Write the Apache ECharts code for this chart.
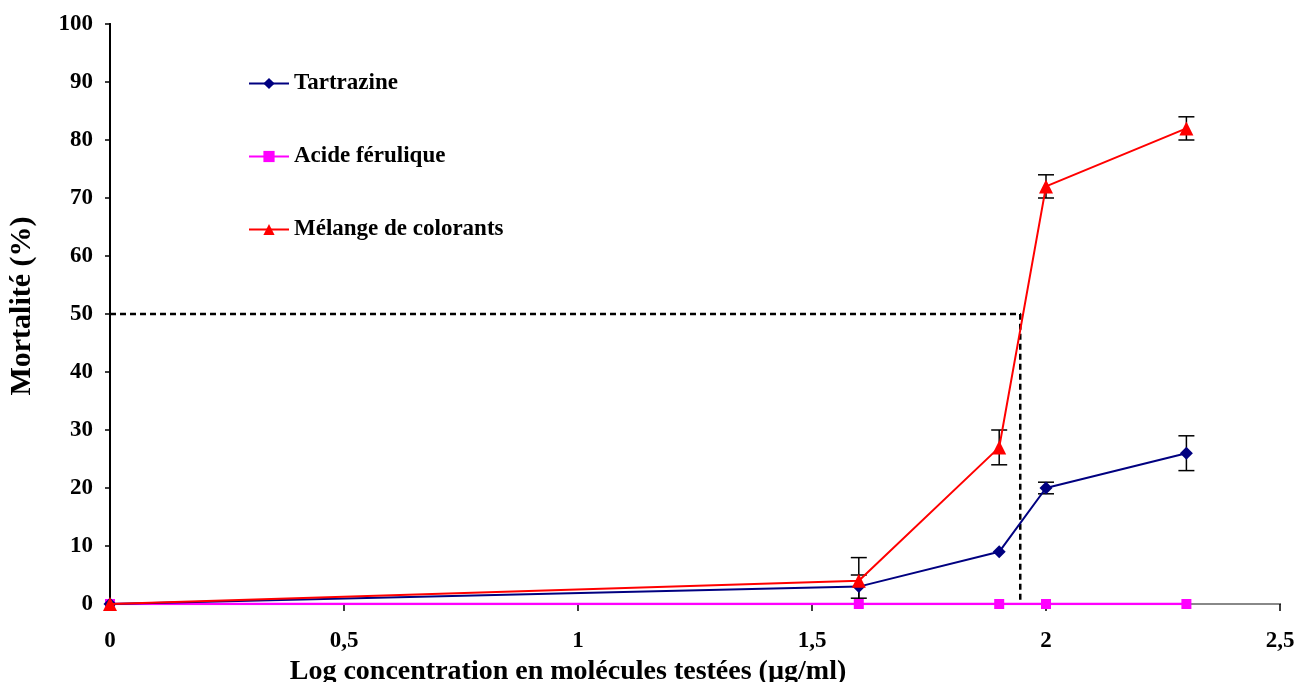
<!DOCTYPE html>
<html>
<head>
<meta charset="utf-8">
<script src="https://cdn.jsdelivr.net/npm/echarts@6/dist/echarts.min.js"></script>
<style>
  html, body { margin: 0; padding: 0; background: #fff; }
  #chart { width: 1297px; height: 682px; }
</style>
</head>
<body>
<div id="chart"></div>
<script>
// Log concentration of the tested molecules (µg/ml)
const logConc = [0, 1.6, 1.9, 2, 2.3];

// Mortality (%) per series
const tartrazine = [0, 3, 9, 20, 26];
const acideFerulique = [0, 0, 0, 0, 0];
const melange = [0, 4, 27, 72, 82];

// Standard deviations (error bars)
const tartrazineErr = [0, 2, 0, 1, 3];
const melangeErr = [0, 4, 3, 2, 2];

// LC50 guide: 50 % mortality read at this log concentration
const lc50Level = 50;
const lc50Log = 1.945;

const xTicks = [0, 0.5, 1, 1.5, 2, 2.5];

const font = 'Liberation Serif';

function pairs(xs, ys) { return xs.map((x, i) => [x, ys[i]]); }

function errorData(xs, ys, es) {
  return xs.map((x, i) => [x, ys[i] - es[i], ys[i] + es[i]]).filter((d, i) => es[i] > 0);
}

function errorRender(params, api) {
  const x = api.value(0);
  const lo = api.coord([x, api.value(1)]);
  const hi = api.coord([x, api.value(2)]);
  const w = 8;
  const style = { stroke: '#000', lineWidth: 1.5, fill: null };
  return {
    type: 'group',
    children: [
      { type: 'line', shape: { x1: hi[0], y1: hi[1], x2: lo[0], y2: lo[1] }, style },
      { type: 'line', shape: { x1: hi[0] - w, y1: hi[1], x2: hi[0] + w, y2: hi[1] }, style },
      { type: 'line', shape: { x1: lo[0] - w, y1: lo[1], x2: lo[0] + w, y2: lo[1] }, style }
    ]
  };
}

const chart = echarts.init(document.getElementById('chart'));

chart.setOption({
  animation: false,
  backgroundColor: '#fff',
  textStyle: { fontFamily: font },
  grid: { left: 110, right: 17, top: 24, bottom: 78, containLabel: false, outerBoundsMode: 'none' },
  legend: {
    orient: 'vertical',
    left: 248,
    top: 72,
    padding: 0,
    itemGap: 50,
    itemWidth: 40,
    itemHeight: 14,
    textStyle: { fontFamily: font, fontWeight: 'bold', fontSize: 23, color: '#000' },
    data: ['Tartrazine', 'Acide férulique', 'Mélange de colorants']
  },
  xAxis: [
    {
      type: 'value',
      min: 0, max: 2.5, interval: 0.5,
      name: 'Log concentration en molécules testées (µg/ml)',
      nameLocation: 'middle',
      nameGap: 53,
      nameTextStyle: {
        fontFamily: font, fontWeight: 'bold', fontSize: 28, color: '#000',
        padding: [0, 254, 0, 0]
      },
      axisLine: { onZero: false, lineStyle: { color: '#000', width: 2 } },
      axisTick: { show: true, length: 7, inside: false, lineStyle: { color: '#000', width: 1.5 } },
      axisLabel: {
        margin: 26,
        fontFamily: font, fontWeight: 'bold', fontSize: 23, color: '#000',
        formatter: v => xTicks.includes(v) ? String(v).replace('.', ',') : ''
      },
      splitLine: { show: false }
    },
    {
      type: 'value', position: 'top',
      min: 0, max: 2.5,
      axisLine: { show: true, lineStyle: { color: '#888', width: 2 } },
      axisTick: { show: false }, axisLabel: { show: false }, splitLine: { show: false }
    }
  ],
  yAxis: [
    {
      type: 'value',
      min: 0, max: 100, interval: 10,
      name: 'Mortalité (%)',
      nameLocation: 'middle',
      nameGap: 73,
      nameTextStyle: {
        fontFamily: font, fontWeight: 'bold', fontSize: 30, color: '#000',
        padding: [0, 0, 0, 16]
      },
      axisLine: { show: true, lineStyle: { color: '#000', width: 2 } },
      axisTick: { show: true, length: 5, lineStyle: { color: '#000', width: 1.5 } },
      axisLabel: { margin: 17, fontFamily: font, fontWeight: 'bold', fontSize: 23, color: '#000' },
      splitLine: { show: false }
    },
    {
      type: 'value', position: 'right',
      min: 0, max: 100,
      axisLine: { show: true, lineStyle: { color: '#000', width: 2 } },
      axisTick: { show: false }, axisLabel: { show: false }, splitLine: { show: false }
    }
  ],
  series: [
    {
      name: 'LC50',
      type: 'line',
      data: [[0, lc50Level], [lc50Log, lc50Level], [lc50Log, 0]],
      symbol: 'none',
      lineStyle: { color: '#000', width: 2.5, type: [6, 4] },
      z: 1,
      silent: true
    },
    {
      type: 'custom',
      renderItem: errorRender,
      data: errorData(logConc, tartrazine, tartrazineErr),
      z: 2, silent: true
    },
    {
      type: 'custom',
      renderItem: errorRender,
      data: errorData(logConc, melange, melangeErr),
      z: 2, silent: true
    },
    {
      name: 'Acide férulique',
      type: 'line',
      data: pairs(logConc, acideFerulique),
      color: '#ff00ff',
      symbol: 'rect',
      symbolSize: 10,
      lineStyle: { width: 2.5, color: '#ff00ff' },
      itemStyle: { color: '#ff00ff' },
      z: 3
    },
    {
      name: 'Tartrazine',
      type: 'line',
      data: pairs(logConc, tartrazine),
      color: '#000080',
      symbol: 'diamond',
      symbolSize: 13,
      lineStyle: { width: 2, color: '#000080' },
      itemStyle: { color: '#000080' },
      z: 4
    },
    {
      name: 'Mélange de colorants',
      type: 'line',
      data: pairs(logConc, melange),
      color: '#ff0000',
      symbol: 'triangle',
      symbolSize: 14,
      lineStyle: { width: 2, color: '#ff0000' },
      itemStyle: { color: '#ff0000' },
      z: 5
    }
  ]
});
</script>
</body>
</html>
